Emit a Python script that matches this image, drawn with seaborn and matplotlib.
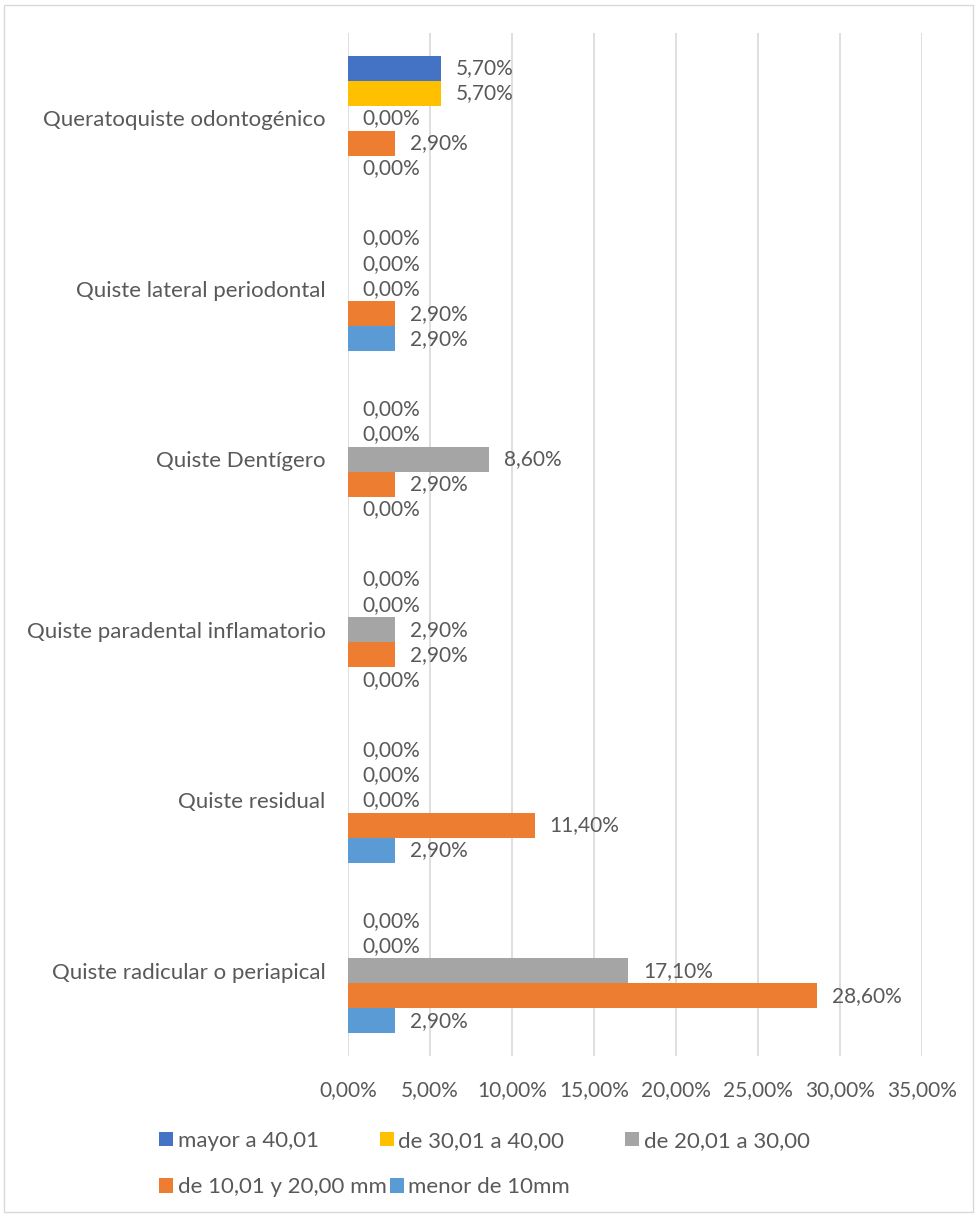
import matplotlib
matplotlib.use("Agg")
import matplotlib.pyplot as plt
import seaborn as sns
import pandas as pd
from matplotlib.patches import Rectangle

categories = [
    "Queratoquiste odontogénico",
    "Quiste lateral periodontal",
    "Quiste Dentígero",
    "Quiste paradental inflamatorio",
    "Quiste residual",
    "Quiste radicular o periapical",
]
series = [
    "mayor a 40,01",
    "de 30,01 a 40,00",
    "de 20,01 a 30,00",
    "de 10,01 y 20,00 mm",
    "menor de 10mm",
]
mayor_40 = [5.7, 0.0, 0.0, 0.0, 0.0, 0.0]
de_30_40 = [5.7, 0.0, 0.0, 0.0, 0.0, 0.0]
de_20_30 = [0.0, 0.0, 8.6, 2.9, 0.0, 17.1]
de_10_20 = [2.9, 2.9, 2.9, 2.9, 11.4, 28.6]
menor_10 = [0.0, 2.9, 0.0, 0.0, 2.9, 2.9]
colors = ["#4472C4", "#FFC000", "#A5A5A5", "#ED7D31", "#5B9BD5"]
xticks = [0, 5, 10, 15, 20, 25, 30, 35]

values = [mayor_40, de_30_40, de_20_30, de_10_20, menor_10]
rows = []
for s, vals in zip(series, values):
    for c, v in zip(categories, vals):
        rows.append({"cat": c, "serie": s, "val": v})
df = pd.DataFrame(rows)

sns.set_theme(style="white")
plt.rcParams["font.family"] = ["Lato", "DejaVu Sans"]
FS = 15
FS_BIG = 16

fig = plt.figure(figsize=(9.77, 12.16), dpi=100)
ax = fig.add_axes([0.356, 0.1316, 0.588, 0.8413])

sns.barplot(data=df, y="cat", x="val", hue="serie", order=categories,
            hue_order=series, palette=colors, orient="h", width=0.735,
            saturation=1, errorbar=None, ax=ax, legend=True, linewidth=0)

txt = "#595959"
for cont in ax.containers:
    ax.bar_label(cont, labels=[f"{b.get_width():.2f}%".replace(".", ",") for b in cont],
                 padding=10.5, fontsize=FS, color=txt)

ax.set_xlim(0, 35)
ax.set_xticks(xticks)
ax.set_xticklabels([f"{t:.2f}%".replace(".", ",") for t in xticks], fontsize=FS, color=txt)
ax.tick_params(axis="x", length=0, pad=17.5)
ax.tick_params(axis="y", length=0, pad=16, labelsize=FS_BIG, labelcolor=txt)
ax.set_xlabel("")
ax.set_ylabel("")
ax.grid(axis="x", color="#D9D9D9", linewidth=1.2)
ax.set_axisbelow(True)
for sp in ax.spines.values():
    sp.set_visible(False)

handles, labels = ax.get_legend_handles_labels()
ax.get_legend().remove()
common = dict(frameon=False, fontsize=FS_BIG, labelcolor=txt, handlelength=0.63,
              handleheight=0.63, handletextpad=0.2, borderpad=0, borderaxespad=0)
fig.legend(handles[:3], labels[:3], loc="center left",
           bbox_to_anchor=(0.1628, 0.0617), ncol=3, columnspacing=2.75, **common)
fig.legend(handles[3:], labels[3:], loc="center left",
           bbox_to_anchor=(0.1628, 0.0238), ncol=2, columnspacing=0.15, **common)

fig.patches.append(Rectangle((0.004, 0.003), 0.992, 0.993, transform=fig.transFigure,
                             fill=False, edgecolor="#D9D9D9", linewidth=1))

fig.savefig("out.png", dpi=100)
